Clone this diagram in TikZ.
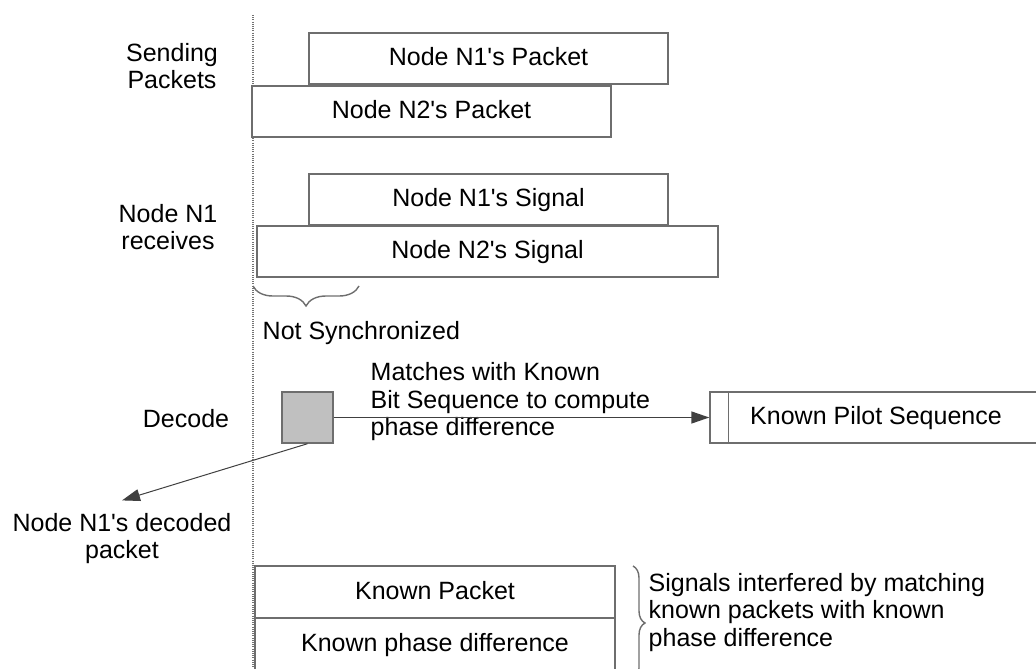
\documentclass[tikz,border=0pt]{standalone}
\usepackage{fontspec}
\setmainfont{Liberation Sans}
\usetikzlibrary{arrows.meta,decorations.pathreplacing}
\definecolor{boxline}{HTML}{6E6E6E}
\definecolor{decgray}{HTML}{C0C0C0}
\newcommand{\ap}{\textquotesingle}
\begin{document}
\begin{tikzpicture}[x=0.5pt,y=-0.5pt,line width=0.7pt,
  font=\fontsize{12.5}{13.75}\selectfont,
  pkt/.style={draw=boxline,fill=white,inner sep=0pt,text height=0.72em,text depth=0pt,minimum height=25.5pt},
  lbl/.style={inner sep=0pt},
  tip/.style={-{Triangle[length=9pt,width=6pt]}}]
\useasboundingbox (0,0) rectangle (1036,668);
\draw[black!55,line width=0.6pt,dash pattern=on 0.5pt off 0.6pt] (253,15) -- (253,668);  % time reference
\node[pkt,minimum width=179.5pt] (pktA) at (488.5,58.5) {Node N1\ap s Packet};
\node[pkt,minimum width=179.5pt] (pktB) at (431.5,111.5) {Node N2\ap s Packet};
\node[pkt,minimum width=179.5pt] (sigA) at (488.5,199.5) {Node N1\ap s Signal};
\node[pkt,minimum width=230.5pt] (sigB) at (487.5,251.5) {Node N2\ap s Signal};
\node[pkt,fill=decgray,minimum width=25.5pt] (dec) at (307.5,417.5) {};
\node[pkt,minimum width=166pt] (pilot) at (876,417.5) {Known Pilot Sequence};
\draw[boxline] ([xshift=9.5pt]pilot.north west) -- ([xshift=9.5pt]pilot.south west);
\node[pkt,minimum width=180pt,minimum height=26pt] (kpkt) at (435,592) {Known Packet};
\node[pkt,minimum width=180pt,minimum height=26pt] (kphase) at (435,644) {Known phase difference};
\node[lbl,align=center] (sendlbl) at (172,66) {Sending\\Packets};
\node[lbl,align=center] (recvlbl) at (168,227) {Node N1\\receives};
\node[lbl,anchor=base] (declbl) at (186,427) {Decode};
\node[lbl,anchor=base west] (nosync) at (262,339) {Not Synchronized};
\node[lbl,align=left,anchor=west] (match) at (370,402) {Matches with Known\\Bit Sequence to compute\\phase difference};
\node[lbl,align=center] (decpkt) at (122,538.5) {Node N1\ap s decoded\\packet};
\node[lbl,align=left,anchor=west] (interf) at (648,612.5) {Signals interfered by matching\\known packets with known\\phase difference};
\draw[boxline,decorate,decoration={brace,mirror,amplitude=10pt}] (253,286) -- (359,286);
\draw[boxline,decorate,decoration={brace,amplitude=6pt}] (633,566) -- (633,680);  % both known boxes
\draw[tip,black!75] (dec.east) -- (pilot.west);
\draw[tip,black!75,line width=0.5pt] (dec.south) -- ([yshift=6pt]decpkt.north);
\end{tikzpicture}
\end{document}
